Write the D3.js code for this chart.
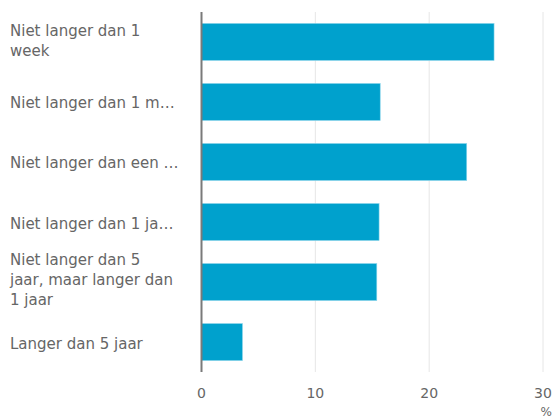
<!DOCTYPE html>
<html>
<head>
<meta charset="utf-8">
<script src="https://cdn.jsdelivr.net/npm/d3@7"></script>
<style>
  body { margin: 0; background: #fff; }
  text { font-family: "DejaVu Sans", "Noto Sans", sans-serif; fill: #666; }
</style>
</head>
<body>
<div id="chart"></div>
<script>
// categories (already wrapped / truncated as shown)
var categories = [
  ["Niet langer dan 1", "week"],
  ["Niet langer dan 1 m\u2026"],
  ["Niet langer dan een \u2026"],
  ["Niet langer dan 1 ja\u2026"],
  ["Niet langer dan 5", "jaar, maar langer dan", "1 jaar"],
  ["Langer dan 5 jaar"]
];
var values = [25.7, 15.7, 23.3, 15.6, 15.4, 3.6];
var ticks = [0, 10, 20, 30];

var width = 552, height = 419;
var margin = {top: 12, right: 8, bottom: 47, left: 201.5};

var svg = d3.select("#chart").append("svg")
    .attr("width", width)
    .attr("height", height);

var x = d3.scaleLinear()
    .domain([0, 30])
    .range([margin.left, 543]);

var y = d3.scaleBand()
    .domain(d3.range(categories.length))
    .range([margin.top, height - margin.bottom])
    .paddingInner(0.383)
    .paddingOuter(0.19);

// gridlines
svg.append("g")
  .selectAll("line")
  .data(ticks.slice(1))
  .enter().append("line")
    .attr("x1", function(d) { return x(d); })
    .attr("x2", function(d) { return x(d); })
    .attr("y1", margin.top)
    .attr("y2", height - margin.bottom)
    .attr("stroke", "#e6e6e6")
    .attr("stroke-width", 1);

// bars
svg.append("g")
  .selectAll("rect")
  .data(values)
  .enter().append("rect")
    .attr("x", x(0))
    .attr("y", function(d, i) { return y(i); })
    .attr("width", function(d) { return x(d) - x(0); })
    .attr("height", y.bandwidth())
    .attr("fill", "#00a1cd")
    .attr("stroke", "#8fd6ec")
    .attr("stroke-width", 0.6);

// category axis line
svg.append("line")
    .attr("x1", x(0))
    .attr("x2", x(0))
    .attr("y1", margin.top)
    .attr("y2", height - margin.bottom)
    .attr("stroke", "#7a7a7a")
    .attr("stroke-width", 2);

// category labels
var lineH = 20;
var lab = svg.append("g")
  .selectAll("text")
  .data(categories)
  .enter().append("text")
    .attr("x", 10)
    .attr("y", function(d, i) {
      var c = y(i) + y.bandwidth() / 2;
      return c + 6.5 - (d.length - 1) * 12;
    })
    .style("font-size", "15px");

lab.selectAll("tspan")
  .data(function(d) { return d; })
  .enter().append("tspan")
    .attr("x", 10)
    .attr("dy", function(d, i) { return i === 0 ? 0 : lineH; })
    .text(function(d) { return d; });

// value axis labels
svg.append("g")
  .selectAll("text")
  .data(ticks)
  .enter().append("text")
    .attr("x", function(d) { return x(d); })
    .attr("y", 398)
    .attr("text-anchor", "middle")
    .style("font-size", "14px")
    .text(function(d) { return d; });

// unit label
svg.append("text")
    .attr("x", 552)
    .attr("y", 416)
    .attr("text-anchor", "end")
    .style("font-size", "12px")
    .text("%");
</script>
</body>
</html>
